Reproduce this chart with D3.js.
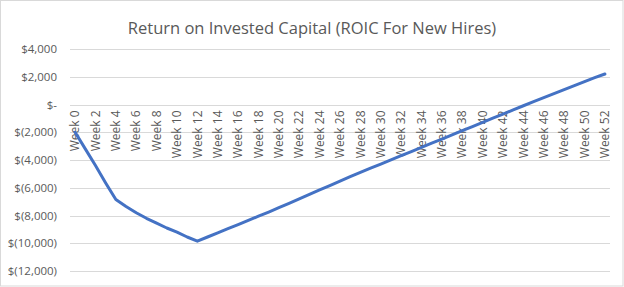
<!DOCTYPE html>
<html>
<head>
<meta charset="utf-8">
<script src="https://cdn.jsdelivr.net/npm/d3@7"></script>
<style>
  body { margin: 0; background: #fff; }
  svg { display: block; font-family: "Open Sans", "Noto Sans", sans-serif; }
</style>
</head>
<body>
<svg id="chart" width="624" height="287"></svg>
<script>
// weeks 0..52, values
var weeks = d3.range(0, 53).map(function(w) { return "Week " + w; });
var roic = [
  -2000, -3200, -4400, -5650, -6850, -7350, -7800, -8200, -8550, -8900,
  -9200, -9550, -9850, -9550, -9250, -8950, -8650, -8350, -8050, -7750,
  -7440, -7120, -6800, -6480, -6160, -5840, -5520, -5200, -4890, -4590,
  -4290, -3990, -3690, -3390, -3090, -2790, -2490, -2190, -1890, -1590,
  -1290, -990, -690, -390, -90, 200, 490, 780, 1070, 1360,
  1650, 1930, 2200
];
var yTicks = [4000, 2000, 0, -2000, -4000, -6000, -8000, -10000, -12000];
var title = "Return on Invested Capital (ROIC For New Hires)";

var svg = d3.select("#chart"),
    W = +svg.attr("width"),
    H = +svg.attr("height"),
    margin = {top: 49, right: 14, bottom: 16, left: 70};

// outer chart border
svg.append("rect")
    .attr("x", 0.5).attr("y", 0.5)
    .attr("width", W - 1.5).attr("height", H - 1.5)
    .attr("fill", "#fff").attr("stroke", "#d9d9d9");

var x = d3.scaleBand().domain(weeks).range([margin.left, W - margin.right]),
    y = d3.scaleLinear().domain([-12000, 4000]).range([271, 49]);

svg.append("text")
    .attr("x", W / 2).attr("y", 34)
    .attr("text-anchor", "middle")
    .style("font-size", "16.5px")
    .style("fill", "#595959")
    .text(title);

// horizontal gridlines
svg.append("g").selectAll("line")
    .data(yTicks)
    .enter().append("line")
    .attr("x1", margin.left).attr("x2", W - margin.right)
    .attr("y1", function(d) { return Math.round(y(d)) + 0.5; })
    .attr("y2", function(d) { return Math.round(y(d)) + 0.5; })
    .attr("stroke", "#d9d9d9").attr("stroke-width", 1);

function fmt(v) {
  if (v === 0) return "$-";
  var s = d3.format(",")(Math.abs(v));
  return v < 0 ? "$(" + s + ")" : "$" + s;
}

svg.append("g").selectAll("text")
    .data(yTicks)
    .enter().append("text")
    .attr("x", 57)
    .attr("y", function(d) { return y(d); })
    .attr("dy", "0.35em")
    .attr("text-anchor", "end")
    .style("font-size", "11.5px")
    .style("fill", "#595959")
    .text(fmt);

// category labels, every second week, rotated
svg.append("g").selectAll("text")
    .data(weeks.filter(function(d, i) { return i % 2 === 0; }))
    .enter().append("text")
    .attr("transform", function(d) {
      return "translate(" + (x(d) + x.bandwidth() / 2) + "," + (y(0) + 6) + ") rotate(-90)";
    })
    .attr("dy", "0.35em")
    .attr("text-anchor", "end")
    .style("font-size", "12px")
    .style("fill", "#595959")
    .text(function(d) { return d; });

var line = d3.line()
    .x(function(d, i) { return x(weeks[i]) + x.bandwidth() / 2; })
    .y(function(d) { return y(d); });

svg.append("path")
    .datum(roic)
    .attr("d", line)
    .attr("fill", "none")
    .attr("stroke", "#4472c4")
    .attr("stroke-width", 3)
    .attr("stroke-linejoin", "round")
    .attr("stroke-linecap", "round");
</script>
</body>
</html>
